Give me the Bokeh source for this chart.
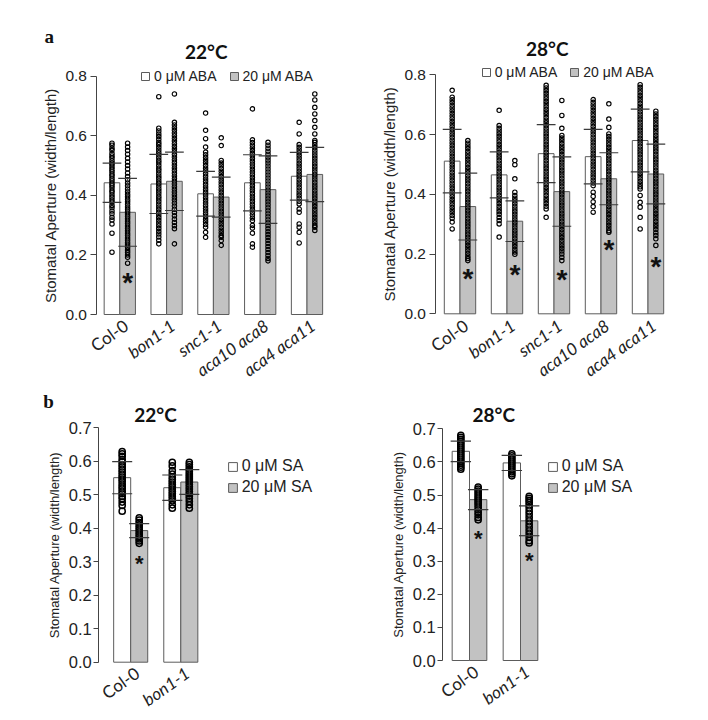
from bokeh.plotting import figure
from bokeh.models import Range1d, FixedTicker, Label, Legend, LegendItem, PrintfTickFormatter
from bokeh.layouts import column, row
from bokeh.core.properties import value
from bokeh.embed import file_html
from bokeh.resources import INLINE

# ---------------- data ----------------
groups_a = ["Col-0", "bon1-1", "snc1-1", "aca10 aca8", "aca4 aca11"]
italic_a = [False, True, True, True, True]
groups_b = ["Col-0", "bon1-1"]
italic_b = [False, True]

legend_a = ["0 μM ABA", "20 μM ABA"]
legend_b = ["0 μM SA", "20 μM SA"]
ylabel = "Stomatal Aperture (width/length)"

# panel a, 22 °C
a22_mean0 = [0.442, 0.438, 0.405, 0.442, 0.464]
a22_sd0 = [0.066, 0.099, 0.075, 0.094, 0.080]
a22_mean1 = [0.343, 0.447, 0.394, 0.419, 0.470]
a22_sd1 = [0.114, 0.098, 0.067, 0.113, 0.091]
a22_stars = [0]
a22_star_y = [0.127]

a22_pts0 = [
    [0.575, 0.568, 0.558, 0.551, 0.540, 0.532, 0.525, 0.516, 0.508, 0.503, 0.495, 0.487, 0.480, 0.471, 0.465, 0.456, 0.449,
     0.440, 0.433, 0.425, 0.416, 0.410, 0.401, 0.393, 0.384, 0.377, 0.366, 0.358, 0.347, 0.338, 0.326, 0.317, 0.304, 0.273, 0.209],
    [0.731, 0.625, 0.616, 0.606, 0.597, 0.588, 0.578, 0.570, 0.561, 0.552, 0.543, 0.535, 0.526, 0.517, 0.509, 0.500, 0.491,
     0.483, 0.474, 0.465, 0.457, 0.448, 0.440, 0.431, 0.422, 0.414, 0.405, 0.396, 0.388, 0.379, 0.370, 0.361, 0.352, 0.343,
     0.334, 0.325, 0.316, 0.307, 0.298, 0.289, 0.279, 0.270, 0.260, 0.249, 0.237],
    [0.676, 0.618, 0.590, 0.562, 0.545, 0.536, 0.527, 0.518, 0.509, 0.500, 0.491, 0.482, 0.473, 0.464, 0.455, 0.446, 0.437,
     0.428, 0.419, 0.410, 0.401, 0.392, 0.383, 0.374, 0.365, 0.356, 0.347, 0.338, 0.329, 0.320, 0.311, 0.302, 0.293, 0.276, 0.259],
    [0.690, 0.586, 0.577, 0.568, 0.559, 0.550, 0.541, 0.532, 0.523, 0.514, 0.505, 0.496, 0.487, 0.478, 0.469, 0.460, 0.451,
     0.442, 0.433, 0.424, 0.415, 0.406, 0.397, 0.388, 0.379, 0.370, 0.361, 0.352, 0.343, 0.334, 0.324, 0.315, 0.299, 0.290,
     0.273, 0.237, 0.226],
    [0.645, 0.606, 0.570, 0.561, 0.552, 0.543, 0.534, 0.525, 0.516, 0.507, 0.498, 0.489, 0.480, 0.471, 0.462, 0.453, 0.444,
     0.435, 0.426, 0.417, 0.408, 0.399, 0.390, 0.380, 0.371, 0.354, 0.343, 0.304, 0.293, 0.276, 0.240],
]
a22_pts1 = [
    [0.575, 0.562, 0.550, 0.538, 0.524, 0.512, 0.500, 0.488, 0.475, 0.463, 0.452, 0.441, 0.432, 0.421, 0.412, 0.403, 0.395,
     0.386, 0.378, 0.370, 0.361, 0.353, 0.345, 0.337, 0.329, 0.321, 0.313, 0.305, 0.297, 0.289, 0.281, 0.273, 0.265, 0.257,
     0.249, 0.241, 0.233, 0.225, 0.216, 0.208, 0.200, 0.192, 0.172],
    [0.740, 0.645, 0.636, 0.627, 0.618, 0.609, 0.600, 0.591, 0.582, 0.573, 0.564, 0.555, 0.546, 0.537, 0.528, 0.519, 0.510,
     0.501, 0.492, 0.483, 0.474, 0.465, 0.456, 0.447, 0.438, 0.429, 0.420, 0.411, 0.402, 0.393, 0.384, 0.374, 0.364, 0.353,
     0.342, 0.331, 0.320, 0.309, 0.298, 0.288, 0.237],
    [0.593, 0.567, 0.517, 0.508, 0.499, 0.490, 0.481, 0.472, 0.463, 0.454, 0.445, 0.436, 0.427, 0.418, 0.409, 0.400, 0.391,
     0.382, 0.373, 0.364, 0.355, 0.346, 0.337, 0.328, 0.319, 0.310, 0.301, 0.292, 0.283, 0.274, 0.265, 0.259, 0.248, 0.232],
    [0.578, 0.568, 0.558, 0.548, 0.538, 0.528, 0.518, 0.508, 0.498, 0.488, 0.478, 0.468, 0.458, 0.448, 0.438, 0.428, 0.418,
     0.408, 0.398, 0.388, 0.378, 0.368, 0.358, 0.348, 0.338, 0.328, 0.318, 0.308, 0.298, 0.288, 0.278, 0.268, 0.258, 0.248,
     0.238, 0.228, 0.218, 0.208, 0.198, 0.188, 0.180],
    [0.740, 0.720, 0.695, 0.673, 0.651, 0.628, 0.606, 0.584, 0.578, 0.569, 0.560, 0.551, 0.542, 0.533, 0.524, 0.515, 0.506,
     0.497, 0.488, 0.479, 0.470, 0.461, 0.452, 0.443, 0.434, 0.425, 0.416, 0.407, 0.398, 0.389, 0.380, 0.371, 0.362, 0.353,
     0.344, 0.335, 0.326, 0.317, 0.308, 0.299, 0.293, 0.282],
]

# panel a, 28 °C
a28_mean0 = [0.511, 0.465, 0.536, 0.526, 0.580]
a28_sd0 = [0.106, 0.077, 0.097, 0.091, 0.105]
a28_mean1 = [0.359, 0.310, 0.409, 0.452, 0.468]
a28_sd1 = [0.112, 0.068, 0.116, 0.087, 0.100]
a28_stars = [0, 1, 2, 3, 4]
a28_star_y = [0.139, 0.151, 0.134, 0.234, 0.180]

a28_pts0 = [
    [0.748, 0.725, 0.716, 0.707, 0.698, 0.689, 0.680, 0.671, 0.662, 0.653, 0.644, 0.635, 0.626, 0.617, 0.608, 0.599, 0.590,
     0.581, 0.572, 0.563, 0.554, 0.545, 0.536, 0.527, 0.518, 0.509, 0.500, 0.491, 0.482, 0.473, 0.464, 0.455, 0.446, 0.437,
     0.428, 0.419, 0.410, 0.401, 0.392, 0.383, 0.374, 0.365, 0.356, 0.347, 0.338, 0.329, 0.320, 0.307, 0.284],
    [0.681, 0.630, 0.621, 0.612, 0.603, 0.594, 0.585, 0.576, 0.567, 0.558, 0.549, 0.540, 0.531, 0.522, 0.513, 0.504, 0.495,
     0.486, 0.477, 0.468, 0.459, 0.450, 0.441, 0.432, 0.423, 0.414, 0.405, 0.396, 0.387, 0.378, 0.369, 0.360, 0.351, 0.342,
     0.333, 0.322, 0.312, 0.301, 0.257],
    [0.765, 0.756, 0.747, 0.738, 0.729, 0.720, 0.711, 0.702, 0.693, 0.684, 0.675, 0.666, 0.657, 0.648, 0.639, 0.630, 0.621,
     0.612, 0.603, 0.594, 0.585, 0.576, 0.567, 0.558, 0.549, 0.540, 0.531, 0.522, 0.513, 0.504, 0.495, 0.486, 0.477, 0.468,
     0.459, 0.450, 0.441, 0.432, 0.423, 0.414, 0.405, 0.396, 0.387, 0.378, 0.369, 0.360, 0.351, 0.323],
    [0.717, 0.708, 0.699, 0.690, 0.681, 0.672, 0.663, 0.654, 0.645, 0.636, 0.627, 0.618, 0.609, 0.600, 0.591, 0.582, 0.573,
     0.564, 0.555, 0.546, 0.537, 0.528, 0.519, 0.510, 0.501, 0.492, 0.483, 0.474, 0.465, 0.456, 0.447, 0.438, 0.429, 0.407,
     0.393, 0.375, 0.359, 0.340],
    [0.767, 0.758, 0.749, 0.740, 0.731, 0.722, 0.713, 0.704, 0.695, 0.686, 0.677, 0.668, 0.659, 0.650, 0.641, 0.632, 0.623,
     0.614, 0.605, 0.596, 0.587, 0.578, 0.569, 0.560, 0.551, 0.542, 0.533, 0.524, 0.515, 0.506, 0.497, 0.488, 0.479, 0.470,
     0.461, 0.452, 0.443, 0.434, 0.425, 0.418, 0.396, 0.373, 0.357, 0.323, 0.284],
]
a28_pts1 = [
    [0.580, 0.571, 0.562, 0.553, 0.544, 0.535, 0.526, 0.517, 0.508, 0.499, 0.490, 0.481, 0.472, 0.463, 0.454, 0.445, 0.436,
     0.427, 0.418, 0.409, 0.400, 0.391, 0.382, 0.373, 0.364, 0.355, 0.346, 0.337, 0.328, 0.319, 0.310, 0.301, 0.292, 0.283,
     0.274, 0.265, 0.256, 0.247, 0.238, 0.229, 0.220, 0.211, 0.202, 0.193, 0.185, 0.178],
    [0.513, 0.499, 0.452, 0.407, 0.396, 0.387, 0.378, 0.369, 0.360, 0.351, 0.342, 0.333, 0.324, 0.315, 0.306, 0.297, 0.288,
     0.279, 0.270, 0.261, 0.252, 0.243, 0.234, 0.225, 0.216, 0.207, 0.199],
    [0.714, 0.664, 0.621, 0.597, 0.588, 0.579, 0.570, 0.561, 0.552, 0.543, 0.534, 0.525, 0.516, 0.507, 0.498, 0.489, 0.480,
     0.471, 0.462, 0.453, 0.444, 0.435, 0.426, 0.417, 0.408, 0.399, 0.390, 0.381, 0.372, 0.363, 0.354, 0.345, 0.336, 0.327,
     0.318, 0.309, 0.300, 0.291, 0.282, 0.273, 0.264, 0.255, 0.246, 0.237, 0.228, 0.219, 0.210, 0.200, 0.189, 0.178],
    [0.703, 0.652, 0.624, 0.602, 0.593, 0.584, 0.575, 0.566, 0.557, 0.548, 0.539, 0.530, 0.521, 0.512, 0.503, 0.494, 0.485,
     0.476, 0.467, 0.458, 0.449, 0.440, 0.431, 0.422, 0.413, 0.404, 0.395, 0.386, 0.377, 0.368, 0.359, 0.350, 0.341, 0.332,
     0.323, 0.314, 0.305, 0.296, 0.287, 0.278, 0.273],
    [0.678, 0.669, 0.660, 0.651, 0.642, 0.633, 0.624, 0.615, 0.606, 0.597, 0.588, 0.579, 0.570, 0.561, 0.552, 0.543, 0.534,
     0.525, 0.516, 0.507, 0.498, 0.489, 0.480, 0.471, 0.462, 0.453, 0.444, 0.435, 0.426, 0.417, 0.408, 0.399, 0.390, 0.381,
     0.372, 0.363, 0.354, 0.345, 0.336, 0.327, 0.318, 0.309, 0.300, 0.291, 0.282, 0.271, 0.262, 0.251, 0.229],
]

# panel b, 22 °C
b22_mean0 = [0.551, 0.521]
b22_sd0 = [0.048, 0.038]
b22_mean1 = [0.393, 0.538]
b22_sd1 = [0.021, 0.037]
b22_stars = [0]
b22_star_y = [0.309]
b22_pts0 = [
    [0.629, 0.622, 0.615, 0.605, 0.598, 0.590, 0.583, 0.575, 0.568, 0.560, 0.553, 0.546, 0.540, 0.532, 0.525, 0.518,
     0.510, 0.503, 0.495, 0.488, 0.478, 0.468, 0.451],
    [0.597, 0.586, 0.572, 0.562, 0.553, 0.545, 0.538, 0.531, 0.524, 0.517, 0.510, 0.503, 0.496, 0.489, 0.482, 0.470, 0.460],
]
b22_pts1 = [
    [0.431, 0.424, 0.417, 0.410, 0.403, 0.396, 0.389, 0.382, 0.375, 0.368, 0.362, 0.355],
    [0.597, 0.590, 0.583, 0.576, 0.569, 0.562, 0.556, 0.550, 0.544, 0.538, 0.531, 0.524, 0.517, 0.510, 0.503, 0.496,
     0.489, 0.480, 0.470, 0.460],
]

# panel b, 28 °C
b28_mean0 = [0.632, 0.597]
b28_sd0 = [0.031, 0.023]
b28_mean1 = [0.486, 0.422]
b28_sd1 = [0.030, 0.045]
b28_stars = [0, 1]
b28_star_y = [0.383, 0.317]
b28_pts0 = [
    [0.680, 0.674, 0.668, 0.662, 0.656, 0.650, 0.644, 0.638, 0.632, 0.626, 0.620, 0.614, 0.608, 0.602, 0.596, 0.590,
     0.584, 0.578],
    [0.624, 0.618, 0.612, 0.606, 0.600, 0.594, 0.588, 0.582, 0.576, 0.570, 0.564, 0.558],
]
b28_pts1 = [
    [0.524, 0.518, 0.512, 0.506, 0.500, 0.494, 0.488, 0.482, 0.476, 0.470, 0.463, 0.455, 0.447, 0.440, 0.432, 0.425],
    [0.496, 0.490, 0.484, 0.478, 0.470, 0.462, 0.452, 0.442, 0.432, 0.422, 0.412, 0.402, 0.392, 0.382, 0.372, 0.362, 0.355],
]

ticks_a = [0.0, 0.2, 0.4, 0.6, 0.8]
ticks_b = [0.0, 0.1, 0.2, 0.3, 0.4, 0.5, 0.6, 0.7]

# ---------------- styling ----------------
GRAY = "#c2c2c2"
EDGE = "#5c5c5c"
INK = "#222222"
SANS = "Liberation Sans"
LABEL_FONT = "Lato"


def panel(cfg):
    # geometry: the frame fills the whole canvas; page pixel -> data helpers
    left, top, w, h = cfg["box"]
    c0, cw, yz, ppu = cfg["c0"], cfg["cw"], cfg["yz"], cfg["ppu"]

    def dx(px):
        return (px - c0) / cw

    def dy(py):
        return (yz - py) / ppu

    p = figure(width=w, height=h,
               x_range=Range1d(dx(left), dx(left + w)), y_range=Range1d(dy(top + h), dy(top)),
               x_axis_location=None, output_backend="svg", toolbar_location=None,
               min_border_left=0, min_border_right=0, min_border_top=0, min_border_bottom=0)
    p.grid.visible = False
    p.outline_line_color = None
    p.background_fill_color = "white"
    p.border_fill_color = "white"

    ax = p.yaxis[0]
    ax.fixed_location = dx(cfg["axis_x"])
    ax.bounds = (cfg["ticks"][0], cfg["ticks"][-1])
    ax.ticker = FixedTicker(ticks=cfg["ticks"])
    ax.formatter = PrintfTickFormatter(format="%.1f")
    ax.minor_tick_line_color = None
    ax.major_tick_out = cfg["tick_out"]
    ax.major_tick_in = 0
    ax.axis_line_color = "#444444"
    ax.major_tick_line_color = "#444444"
    ax.major_label_text_font = SANS
    ax.major_label_text_font_size = cfg["tick_fs"]
    ax.major_label_text_color = INK
    ax.major_label_standoff = cfg["lab_standoff"]
    ax.axis_label = ylabel
    ax.axis_label_text_font = SANS
    ax.axis_label_text_font_style = "normal"
    ax.axis_label_text_font_size = cfg["ylab_fs"]
    ax.axis_label_text_color = INK
    ax.axis_label_standoff = cfg["ylab_standoff"]

    n = len(cfg["groups"])
    bw = cfg["bw"]
    xc = list(range(n))
    x0s = [i - bw / 2 for i in xc]
    x1s = [i + bw / 2 for i in xc]

    r0 = p.vbar(x=x0s, top=cfg["m0"], bottom=0, width=bw, fill_color="white",
                line_color=EDGE, line_width=1)
    r1 = p.vbar(x=x1s, top=cfg["m1"], bottom=0, width=bw, fill_color=GRAY,
                line_color=EDGE, line_width=1)

    # individual measurements (open circles)
    px, py = [], []
    for xs, pts in ((x0s, cfg["p0"]), (x1s, cfg["p1"])):
        for i, vals in enumerate(pts):
            px += [xs[i]] * len(vals)
            py += vals
    p.scatter(x=px, y=py, marker="circle", size=cfg["dot"], fill_alpha=0,
              line_color="#000000", line_width=cfg["dot_lw"])

    # error bars (mean ± SD)
    cap = cfg["cap"]
    for xs, m, s in ((x0s, cfg["m0"], cfg["s0"]), (x1s, cfg["m1"], cfg["s1"])):
        hi = [a + b for a, b in zip(m, s)]
        lo = [a - b for a, b in zip(m, s)]
        p.segment(x0=xs, x1=xs, y0=lo, y1=hi, line_color="#444444", line_width=1)
        p.segment(x0=[x - cap / 2 for x in xs], x1=[x + cap / 2 for x in xs], y0=hi, y1=hi,
                  line_color="#3a3a3a", line_width=1.2)
        p.segment(x0=[x - cap / 2 for x in xs], x1=[x + cap / 2 for x in xs], y0=lo, y1=lo,
                  line_color="#3a3a3a", line_width=1.2)

    # significance asterisks
    p.text(x=[x1s[i] for i in cfg["stars"]], y=cfg["star_y"], text=["*"] * len(cfg["stars"]),
           text_font=value(SANS), text_font_size=cfg["star_fs"], text_font_style="bold",
           text_align="center", text_baseline="middle", text_color="#111111",
           y_offset=cfg["star_off"])

    # category labels (rotated)
    for i, g in enumerate(cfg["groups"]):
        p.add_layout(Label(x=i + cfg["lab_dx"], y=dy(cfg["lab_py"]), text=g, angle=0.62,
                           text_align="right", text_baseline="middle",
                           text_font=LABEL_FONT, text_font_size=cfg["cat_fs"],
                           text_font_style="italic" if cfg["italic"][i] else "normal",
                           text_color=INK))

    # panel title (temperature)
    tx, ty = cfg["title_at"]
    p.add_layout(Label(x=dx(tx), y=dy(ty), text=cfg["title"],
                       text_align="center", text_baseline="alphabetic", text_font=LABEL_FONT,
                       text_font_style="bold", text_font_size="19px", text_color="#111111"))
    if cfg.get("letter"):
        lx, ly = cfg["letter_at"]
        p.add_layout(Label(x=dx(lx), y=dy(ly), text=cfg["letter"],
                           text_align="center", text_baseline="alphabetic",
                           text_font="Liberation Serif", text_font_style="bold",
                           text_font_size="19px", text_color="#111111"))

    leg = Legend(items=[LegendItem(label=cfg["leg"][0], renderers=[r0]),
                        LegendItem(label=cfg["leg"][1], renderers=[r1])],
                 orientation=cfg["leg_orient"],
                 location=(cfg["leg_at"][0] - left, top + h - cfg["leg_at"][1]),
                 padding=0, margin=0, spacing=cfg["leg_spacing"],
                 glyph_width=cfg["leg_glyph"], glyph_height=cfg["leg_glyph"],
                 label_standoff=4, label_height=cfg["leg_lh"],
                 label_text_font=SANS, label_text_font_size=cfg["leg_fs"],
                 label_text_color=INK, border_line_alpha=0, background_fill_alpha=0)
    p.add_layout(leg)
    return p


common_a = dict(ticks=ticks_a, tick_out=6, lab_standoff=3,
                tick_fs="15.5px", ylab_fs="15px", ylab_standoff=4, bw=0.334, cap=0.40, dot=4.4,
                dot_lw=1.15, star_fs="28px", star_off=6, lab_dx=0.13, lab_py=323, cat_fs="17px",
                italic=italic_a, groups=groups_a, leg=legend_a, leg_orient="horizontal",
                leg_spacing=12, leg_glyph=10, leg_lh=16, leg_fs="14px")

pA1 = panel(dict(common_a, box=(0, 0, 354, 392), c0=119.3, cw=46.8, yz=314.0, ppu=298.0, axis_x=95.5,
                 m0=a22_mean0, s0=a22_sd0, m1=a22_mean1, s1=a22_sd1, p0=a22_pts0, p1=a22_pts1,
                 stars=a22_stars, star_y=a22_star_y, title="22°C", title_at=(205.7, 51),
                 letter="a", letter_at=(48.8, 36), leg_at=(140, 84)))
pA2 = panel(dict(common_a, box=(354, 0, 354, 392), c0=459.5, cw=47.0, yz=313.3, ppu=298.75, axis_x=434.5,
                 m0=a28_mean0, s0=a28_sd0, m1=a28_mean1, s1=a28_sd1, p0=a28_pts0, p1=a28_pts1,
                 stars=a28_stars, star_y=a28_star_y, title="28°C", title_at=(546.7, 47.5),
                 leg_at=(480.7, 80.3)))

common_b = dict(ticks=ticks_b, tick_out=5, lab_standoff=2,
                tick_fs="16.5px", ylab_fs="13px", ylab_standoff=4, bw=0.34, cap=0.40, dot=6.2,
                dot_lw=1.5, star_fs="22px", star_off=5, lab_dx=0.13, cat_fs="17px",
                italic=italic_b, groups=groups_b, leg=legend_b, leg_orient="vertical",
                leg_spacing=3, leg_glyph=11, leg_lh=18, leg_fs="16px")

pB1 = panel(dict(common_b, box=(0, 392, 354, 328), c0=130.2, cw=50.1, yz=661.7, ppu=334.9, axis_x=98.3,
                 lab_py=670.5,
                 m0=b22_mean0, s0=b22_sd0, m1=b22_mean1, s1=b22_sd1, p0=b22_pts0, p1=b22_pts1,
                 stars=b22_stars, star_y=b22_star_y, title="22°C", title_at=(155, 414),
                 letter="b", letter_at=(48, 401), leg_at=(226.7, 496)))
pB2 = panel(dict(common_b, box=(354, 392, 354, 328), c0=469.0, cw=51.0, yz=660.0, ppu=331.0, axis_x=442.3,
                 lab_py=669,
                 m0=b28_mean0, s0=b28_sd0, m1=b28_mean1, s1=b28_sd1, p0=b28_pts0, p1=b28_pts1,
                 stars=b28_stars, star_y=b28_star_y, title="28°C", title_at=(493.3, 414),
                 leg_at=(546.7, 496)))

layout = column(row(pA1, pA2), row(pB1, pB2))
open("out.html", "w").write(file_html(layout, INLINE))
